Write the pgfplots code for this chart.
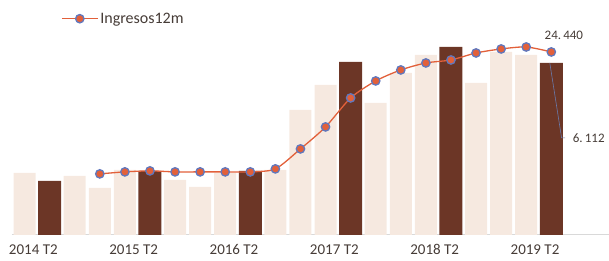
\documentclass[border=0pt]{standalone}
\usepackage{pgfplots}
\pgfplotsset{compat=1.18}
\usepackage{fontspec}
\setmainfont{Carlito}
\definecolor{darkbar}{RGB}{108,54,38}
\definecolor{lightbar}{RGB}{246,233,224}
\definecolor{linecol}{RGB}{226,96,58}
\definecolor{markblue}{RGB}{96,120,190}
\definecolor{labgray}{RGB}{70,60,55}
\begin{document}
\begin{tikzpicture}
% quarterly bars
\begin{axis}[
  scale only axis, width=597.4pt, height=235pt,
  xmin=-0.5, xmax=23.3, ymin=0, ymax=8350,
  axis x line*=bottom, axis y line=none,
  x axis line style={draw=black!15, line width=0.8pt, -},
  xtick={0.35,4.35,8.35,12.35,16.35,20.35},
  xticklabels={2014 T2,2015 T2,2016 T2,2017 T2,2018 T2,2019 T2},
  major tick length=0pt,
  xticklabel style={font=\fontsize{15}{16}\selectfont, text=labgray, yshift=-6pt},
  ybar, bar width=22pt, bar shift=0pt,
  clip=false,
]
\addplot[fill=lightbar, draw=none] coordinates {
 (0,2203) (2,2096) (3,1670) (4,2310) (6,1954) (7,1705) (8,2203)
 (10,2310) (11,4441) (12,5330) (14,4690) (15,5756) (16,6395)
 (18,5400) (19,6502) (20,6395)};
\addplot[fill=darkbar, draw=none, bar width=23pt] coordinates {
 (1,1919) (5,2274) (9,2274) (13,6147) (17,6680) (21,6112)};
\draw[markblue!70!gray, line width=0.6pt] (axis cs:20.94,6112) -- (axis cs:21.41,3446) -- (axis cs:21.55,3446);
\node[anchor=west, text=labgray, font=\fontsize{13}{14}\selectfont, inner sep=0pt] at (axis cs:21.85,3446) {6.\,112};
\end{axis}
% 12-month line
\begin{axis}[
  scale only axis, width=597.4pt, height=235pt,
  xmin=-0.5, xmax=23.3, ymin=0, ymax=31384,
  axis lines=none,
  clip=false,
  legend style={at={(0.082,0.955)}, anchor=north west, draw=none, fill=none,
    font=\fontsize{16}{17}\selectfont, text=labgray, inner sep=0pt},
  legend image code/.code={
    \draw[#1] (0pt,0pt) -- (36pt,0pt);
    \draw[#1, only marks] plot coordinates {(18pt,0pt)};
  },
]
\addplot[color=linecol, line width=1.3pt, smooth, tension=0.45,
  mark=*, mark size=4.2pt,
  mark options={fill=linecol, draw=markblue, line width=1.3pt}]
 coordinates {
 (3,8147) (4,8414) (5,8547) (6,8414) (7,8414) (8,8414) (9,8414)
 (10,8814) (11,11485) (12,14423) (13,18296) (14,20567) (15,22036)
 (16,22971) (17,23371) (18,24306) (19,24840) (20,25107) (21,24440)};
\addlegendentry{Ingresos12m}
\node[text=labgray, font=\fontsize{13}{14}\selectfont, inner sep=0pt] at (axis cs:21.5,26710) {24.\,440};
\end{axis}
\pgfresetboundingbox
\path (-12pt,-26pt) rectangle (597.4pt,235pt);
\end{tikzpicture}
\end{document}
